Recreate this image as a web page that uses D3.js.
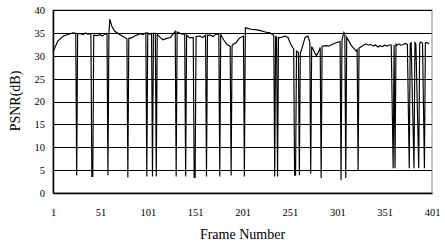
<!DOCTYPE html>
<html>
<head>
<meta charset="utf-8">
<script src="https://cdn.jsdelivr.net/npm/d3@7/dist/d3.min.js"></script>
<style>
  body { margin: 0; background: #fff; }
  text { font-family: "Liberation Serif", "Times New Roman", serif; fill: #000; }
</style>
</head>
<body>
<div class="chart"></div>
<script>
// frame numbers and PSNR (drops are single/double frames)
var frames = [1, 6, 12, 16, 22, 25, 26, 27, 30, 33, 35, 38, 40, 41, 42, 43, 44, 47, 51, 53, 56, 58, 59, 60, 61, 63, 66, 70, 74, 79, 80, 81, 84, 88, 93, 96, 99, 100, 101, 103, 105, 106, 107, 109, 110, 111, 114, 117, 121, 125, 130, 131, 132, 136, 140, 141, 142, 145, 149, 150, 151, 152, 156, 159, 162, 163, 164, 167, 170, 172, 176, 177, 178, 181, 185, 188, 189, 190, 191, 194, 198, 202, 203, 204, 210, 215, 220, 225, 230, 234, 235, 236, 237, 238, 239, 240, 243, 246, 249, 252, 254, 255, 256, 257, 258, 260, 261, 262, 265, 267, 270, 272, 273, 274, 276, 279, 282, 283, 284, 285, 289, 292, 295, 299, 304, 305, 306, 308, 309, 310, 311, 313, 316, 318, 321, 322, 323, 324, 327, 331, 334, 336, 339, 341, 344, 346, 349, 351, 354, 356, 358, 360, 361, 362, 363, 364, 366, 368, 370, 373, 375, 377, 378, 379, 382, 383, 384, 387, 388, 389, 391, 393, 394, 395, 398, 401];
var psnr = [30.8, 33.2, 34.3, 34.6, 35.0, 34.9, 3.8, 34.8, 34.8, 34.6, 35.0, 34.7, 34.8, 34.7, 3.6, 3.6, 34.5, 34.4, 34.6, 34.3, 34.8, 34.7, 3.9, 34.8, 38.0, 36.5, 35.4, 34.8, 34.3, 33.7, 3.4, 33.8, 33.9, 34.4, 34.8, 34.6, 35.0, 3.6, 35.0, 34.7, 34.9, 3.6, 34.9, 34.9, 3.6, 34.7, 34.0, 33.5, 33.8, 34.0, 35.3, 3.6, 35.2, 34.8, 34.6, 3.6, 34.5, 33.9, 34.0, 3.4, 3.4, 34.2, 34.3, 34.0, 34.5, 3.6, 34.5, 34.5, 34.2, 34.6, 34.8, 3.6, 34.7, 33.5, 32.4, 32.1, 3.8, 32.2, 32.5, 32.8, 33.9, 34.3, 3.6, 36.1, 35.8, 35.7, 35.5, 35.2, 35.0, 34.4, 3.6, 34.2, 34.1, 3.6, 34.0, 33.9, 34.1, 34.3, 34.0, 32.5, 31.8, 31.5, 3.9, 3.9, 31.0, 30.7, 3.9, 30.5, 32.5, 34.0, 34.3, 33.0, 4.2, 32.0, 31.2, 30.0, 31.2, 31.8, 3.3, 32.1, 32.2, 32.1, 32.4, 32.8, 33.1, 2.8, 33.5, 35.1, 34.8, 3.3, 34.0, 33.3, 32.2, 31.7, 31.0, 31.3, 4.8, 31.7, 32.1, 32.6, 32.3, 32.5, 32.1, 32.4, 31.9, 32.2, 32.0, 32.3, 32.1, 32.4, 32.3, 5.4, 32.4, 5.4, 32.5, 32.3, 32.6, 32.3, 32.4, 32.7, 32.5, 5.4, 32.6, 32.8, 5.4, 32.9, 32.6, 5.4, 32.7, 33.0, 32.7, 5.4, 32.8, 32.9, 32.6];
var xTicks = [1, 51, 101, 151, 201, 251, 301, 351, 401];
var yTicks = [0, 5, 10, 15, 20, 25, 30, 35, 40];

var svgWidth = 445;
var svgHeight = 247;
var margin = { top: 10, right: 13, bottom: 54, left: 53 };
var width = svgWidth - margin.left - margin.right;
var height = svgHeight - margin.top - margin.bottom;

var svg = d3.select(".chart")
  .append("svg")
  .attr("width", svgWidth)
  .attr("height", svgHeight)
  .append("g")
  .attr("transform", "translate(" + margin.left + "," + margin.top + ")");

var x = d3.scaleLinear().domain([1, 401]).range([0, width]);
var y = d3.scaleLinear().domain([0, 40]).range([height, 0]);

// plot frame (gray right edge)
svg.append("rect")
  .attr("x", 0).attr("y", 0)
  .attr("width", width).attr("height", height)
  .attr("fill", "none")
  .attr("stroke", "#888")
  .attr("stroke-width", 1);

// horizontal gridlines
svg.selectAll(".grid")
  .data(yTicks.filter(function(d) { return d > 0; }))
  .enter()
  .append("line")
  .attr("class", "grid")
  .attr("x1", 0).attr("x2", width)
  .attr("y1", function(d) { return Math.round(y(d)) + 0.5; })
  .attr("y2", function(d) { return Math.round(y(d)) + 0.5; })
  .attr("stroke", "#000")
  .attr("stroke-width", 1);

var data = frames.map(function(f, i) { return { frame: f, psnr: psnr[i] }; });

var line = d3.line()
  .x(function(d) { return x(d.frame); })
  .y(function(d) { return y(d.psnr); });

svg.append("path")
  .datum(data)
  .attr("fill", "none")
  .attr("stroke", "#000")
  .attr("stroke-width", 1.15)
  .attr("d", line);

// axes
var bottomAxis = d3.axisBottom(x).tickValues(xTicks).tickSize(0).tickPadding(0).tickFormat(d3.format("d"));
var leftAxis = d3.axisLeft(y).tickValues(yTicks).tickSize(0).tickPadding(8);

var gx = svg.append("g")
  .attr("transform", "translate(0," + height + ")")
  .call(bottomAxis);
gx.select(".domain").attr("stroke", "#000").attr("stroke-width", 1.5);
gx.selectAll("text")
  .attr("y", 23)
  .attr("dy", 0)
  .style("font-size", "10.5px")
  .style("font-family", "Liberation Serif");

var gy = svg.append("g").call(leftAxis);
gy.select(".domain").attr("stroke", "#000").attr("stroke-width", 1.5);
gy.selectAll("text")
  .style("font-size", "10.5px")
  .style("font-family", "Liberation Serif");

svg.append("text")
  .attr("transform", "rotate(-90)")
  .attr("x", -(101 - margin.top))
  .attr("y", 20 - margin.left)
  .attr("text-anchor", "middle")
  .style("font-size", "14px")
  .text("PSNR(dB)");

svg.append("text")
  .attr("x", width / 2)
  .attr("y", height + 46)
  .attr("text-anchor", "middle")
  .style("font-size", "14px")
  .text("Frame Number");
</script>
</body>
</html>
